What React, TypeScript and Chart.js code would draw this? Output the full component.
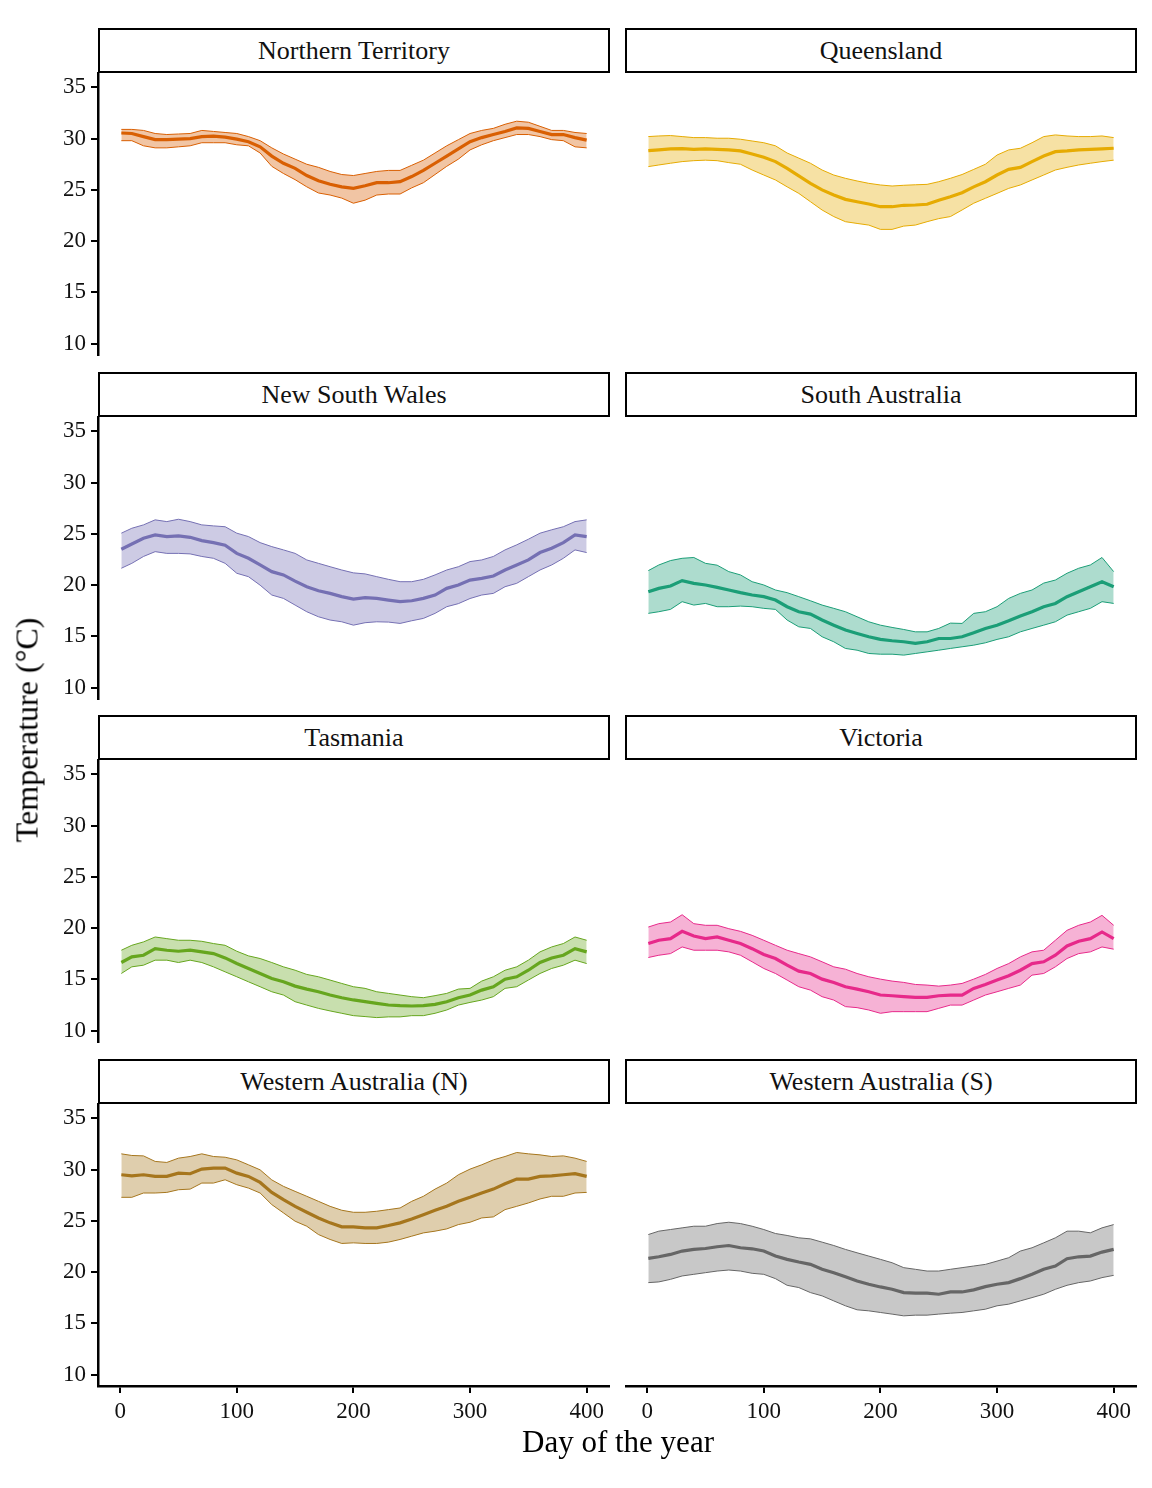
import React, { useEffect, useRef } from 'react';
import Chart from 'chart.js/auto';

// day of the year at which each value was read
const days = [1, 10, 20, 30, 40, 50, 60, 70, 80, 90, 100, 110, 120, 130, 140, 150, 160, 170, 180, 190, 200, 210, 220, 230, 240, 250, 260, 270, 280, 290, 300, 310, 320, 330, 340, 350, 360, 370, 380, 390, 400];

const ntMean = [30.55, 30.5, 30.2, 29.9, 29.9, 29.95, 30.0, 30.2, 30.25, 30.15, 29.95, 29.7, 29.2, 28.3, 27.6, 27.1, 26.4, 25.9, 25.55, 25.3, 25.15, 25.4, 25.7, 25.7, 25.8, 26.3, 26.9, 27.6, 28.3, 29.0, 29.7, 30.1, 30.4, 30.7, 31.05, 31.0, 30.7, 30.4, 30.4, 30.1, 29.85];
const ntLow = [29.8, 29.8, 29.3, 29.1, 29.1, 29.2, 29.3, 29.6, 29.6, 29.6, 29.4, 29.3, 28.6, 27.3, 26.6, 26.0, 25.3, 24.7, 24.5, 24.2, 23.7, 24.0, 24.5, 24.6, 24.6, 25.2, 25.7, 26.5, 27.3, 28.0, 28.9, 29.4, 29.8, 30.1, 30.4, 30.4, 30.2, 29.9, 29.8, 29.2, 29.1];
const ntHigh = [30.9, 30.9, 30.8, 30.5, 30.4, 30.45, 30.5, 30.8, 30.7, 30.6, 30.5, 30.2, 29.8, 29.1, 28.5, 28.0, 27.5, 27.2, 26.8, 26.5, 26.4, 26.6, 26.8, 26.9, 26.9, 27.4, 27.9, 28.6, 29.3, 29.9, 30.5, 30.8, 31.0, 31.4, 31.7, 31.6, 31.2, 30.8, 30.8, 30.6, 30.5];

const qldMean = [28.83, 28.9, 29.0, 29.03, 28.96, 29.0, 28.96, 28.9, 28.8, 28.5, 28.18, 27.76, 27.1, 26.36, 25.64, 25.0, 24.5, 24.08, 23.85, 23.62, 23.36, 23.36, 23.5, 23.53, 23.6, 24.0, 24.34, 24.73, 25.3, 25.8, 26.45, 27.0, 27.2, 27.76, 28.3, 28.73, 28.8, 28.9, 28.96, 29.0, 29.06];
const qldLow = [27.27, 27.43, 27.6, 27.76, 27.85, 27.9, 27.85, 27.66, 27.5, 26.94, 26.45, 25.97, 25.3, 24.66, 23.85, 23.04, 22.4, 21.9, 21.73, 21.57, 21.15, 21.15, 21.47, 21.57, 21.9, 22.2, 22.4, 23.04, 23.7, 24.18, 24.66, 25.15, 25.48, 25.97, 26.45, 26.94, 27.2, 27.43, 27.6, 27.76, 27.9];
const qldHigh = [30.2, 30.26, 30.3, 30.2, 30.1, 30.1, 30.04, 30.04, 29.94, 29.77, 29.6, 29.3, 28.6, 28.1, 27.6, 26.94, 26.45, 26.13, 25.87, 25.64, 25.48, 25.38, 25.45, 25.5, 25.54, 25.8, 26.13, 26.5, 27.0, 27.5, 28.4, 28.9, 29.06, 29.6, 30.2, 30.36, 30.26, 30.2, 30.2, 30.26, 30.1];

const nswMean = [23.5, 24.02, 24.58, 24.9, 24.74, 24.8, 24.67, 24.35, 24.15, 23.9, 23.1, 22.62, 21.97, 21.32, 21.0, 20.4, 19.85, 19.46, 19.2, 18.88, 18.65, 18.78, 18.71, 18.55, 18.39, 18.48, 18.71, 19.04, 19.69, 20.02, 20.5, 20.67, 20.9, 21.48, 21.97, 22.46, 23.18, 23.6, 24.15, 24.9, 24.74];
const nswLow = [21.65, 22.13, 22.8, 23.27, 23.1, 23.1, 23.05, 22.8, 22.62, 22.13, 21.16, 20.83, 20.0, 19.04, 18.71, 18.06, 17.41, 16.92, 16.6, 16.43, 16.1, 16.34, 16.43, 16.4, 16.27, 16.53, 16.76, 17.25, 17.9, 18.2, 18.7, 19.04, 19.2, 19.85, 20.18, 20.83, 21.48, 21.97, 22.62, 23.44, 23.18];
const nswHigh = [25.07, 25.55, 25.88, 26.37, 26.2, 26.43, 26.2, 25.88, 25.78, 25.7, 25.07, 24.74, 24.15, 23.76, 23.44, 23.1, 22.46, 22.13, 21.8, 21.48, 21.2, 21.1, 20.83, 20.57, 20.34, 20.34, 20.57, 21.0, 21.48, 21.8, 22.3, 22.46, 22.8, 23.44, 23.93, 24.48, 25.07, 25.4, 25.7, 26.2, 26.37];

const saMean = [19.36, 19.69, 19.92, 20.44, 20.18, 20.02, 19.79, 19.53, 19.27, 19.04, 18.88, 18.55, 17.9, 17.41, 17.18, 16.6, 16.1, 15.62, 15.29, 14.97, 14.71, 14.58, 14.48, 14.32, 14.48, 14.8, 14.8, 14.97, 15.36, 15.78, 16.1, 16.53, 16.99, 17.41, 17.9, 18.22, 18.88, 19.36, 19.85, 20.34, 19.85];
const saLow = [17.25, 17.41, 17.64, 18.39, 18.06, 18.22, 17.9, 17.9, 17.96, 17.9, 17.74, 17.64, 16.6, 15.94, 15.78, 14.97, 14.48, 13.83, 13.66, 13.34, 13.27, 13.27, 13.18, 13.34, 13.5, 13.66, 13.83, 13.99, 14.15, 14.38, 14.71, 14.97, 15.45, 15.78, 16.1, 16.43, 17.08, 17.41, 17.74, 18.39, 18.22];
const saHigh = [21.42, 21.97, 22.4, 22.62, 22.7, 22.13, 21.95, 21.32, 21.0, 20.34, 20.02, 19.53, 19.27, 18.88, 18.48, 18.06, 17.74, 17.41, 16.92, 16.43, 16.1, 15.88, 15.68, 15.45, 15.45, 15.78, 16.3, 16.27, 17.25, 17.41, 17.9, 18.71, 19.2, 19.53, 20.2, 20.5, 21.16, 21.65, 21.97, 22.7, 21.32];

const tasMean = [16.65, 17.2, 17.36, 18.0, 17.85, 17.75, 17.85, 17.69, 17.52, 17.1, 16.55, 16.07, 15.58, 15.1, 14.77, 14.35, 14.06, 13.8, 13.48, 13.22, 13.0, 12.83, 12.67, 12.51, 12.44, 12.41, 12.44, 12.57, 12.83, 13.22, 13.48, 13.96, 14.29, 15.03, 15.26, 15.9, 16.65, 17.1, 17.36, 18.0, 17.69];
const tasLow = [15.58, 16.23, 16.39, 16.88, 16.88, 16.65, 16.88, 16.65, 16.23, 15.74, 15.26, 14.77, 14.29, 13.8, 13.48, 12.83, 12.5, 12.18, 11.93, 11.7, 11.47, 11.38, 11.28, 11.35, 11.35, 11.47, 11.47, 11.7, 12.02, 12.5, 12.76, 12.99, 13.32, 14.13, 14.29, 14.94, 15.58, 16.07, 16.39, 16.88, 16.55];
const tasHigh = [17.85, 18.33, 18.66, 19.14, 18.98, 18.82, 18.82, 18.72, 18.5, 18.33, 17.75, 17.3, 17.04, 16.65, 16.23, 15.9, 15.49, 15.26, 14.94, 14.61, 14.29, 14.13, 13.8, 13.64, 13.48, 13.32, 13.22, 13.42, 13.64, 14.06, 14.13, 14.84, 15.26, 15.9, 16.23, 16.88, 17.69, 18.17, 18.5, 19.14, 18.82];

const vicMean = [18.5, 18.82, 18.98, 19.69, 19.24, 18.98, 19.14, 18.82, 18.5, 18.0, 17.43, 17.04, 16.39, 15.81, 15.58, 15.03, 14.71, 14.29, 14.06, 13.8, 13.48, 13.41, 13.32, 13.25, 13.25, 13.41, 13.48, 13.48, 14.13, 14.51, 14.94, 15.36, 15.9, 16.55, 16.72, 17.36, 18.27, 18.72, 18.98, 19.63, 18.98];
const vicLow = [17.14, 17.36, 17.52, 18.17, 17.85, 17.85, 17.85, 17.69, 17.36, 16.72, 16.07, 15.58, 14.94, 14.29, 13.96, 13.32, 12.99, 12.35, 12.25, 12.02, 11.7, 11.86, 11.86, 11.86, 11.86, 12.18, 12.5, 12.5, 12.99, 13.48, 13.8, 14.13, 14.45, 15.42, 15.58, 16.23, 17.04, 17.52, 17.69, 18.17, 17.95];
const vicHigh = [20.11, 20.44, 20.6, 21.31, 20.44, 20.28, 20.28, 19.95, 19.69, 19.3, 18.82, 18.33, 17.85, 17.52, 17.2, 16.72, 16.23, 16.0, 15.58, 15.26, 15.03, 14.84, 14.71, 14.51, 14.45, 14.35, 14.45, 14.61, 15.03, 15.49, 16.07, 16.55, 17.2, 17.69, 17.85, 18.82, 19.79, 20.28, 20.6, 21.25, 20.28];

const wanMean = [29.5, 29.4, 29.5, 29.34, 29.34, 29.66, 29.6, 30.05, 30.15, 30.15, 29.66, 29.34, 28.75, 27.78, 27.07, 26.42, 25.84, 25.29, 24.81, 24.42, 24.42, 24.32, 24.32, 24.55, 24.81, 25.19, 25.61, 26.04, 26.42, 26.91, 27.3, 27.72, 28.1, 28.62, 29.08, 29.08, 29.34, 29.4, 29.5, 29.6, 29.34];
const wanLow = [27.3, 27.3, 27.72, 27.72, 27.78, 28.04, 28.1, 28.69, 28.69, 29.01, 28.53, 28.2, 27.72, 26.59, 25.78, 24.97, 24.48, 23.67, 23.19, 22.8, 22.86, 22.8, 22.8, 22.93, 23.19, 23.51, 23.83, 24.0, 24.22, 24.64, 24.87, 25.29, 25.39, 26.1, 26.42, 26.75, 27.14, 27.4, 27.4, 27.72, 27.78];
const wanHigh = [31.54, 31.38, 31.34, 30.8, 30.7, 31.12, 31.28, 31.54, 31.28, 31.21, 30.95, 30.47, 29.98, 29.0, 28.37, 27.88, 27.4, 26.91, 26.42, 26.04, 25.84, 25.84, 25.94, 26.1, 26.26, 26.91, 27.4, 28.1, 28.69, 29.5, 30.05, 30.47, 30.95, 31.28, 31.67, 31.54, 31.44, 31.28, 31.34, 31.12, 30.8];

const wasMean = [21.34, 21.5, 21.73, 22.06, 22.22, 22.31, 22.48, 22.6, 22.38, 22.28, 22.06, 21.57, 21.25, 20.99, 20.76, 20.28, 19.95, 19.56, 19.14, 18.82, 18.56, 18.33, 18.01, 17.95, 17.95, 17.85, 18.07, 18.07, 18.27, 18.59, 18.82, 18.98, 19.37, 19.79, 20.28, 20.6, 21.31, 21.5, 21.57, 21.96, 22.22];
const wasLow = [18.98, 19.05, 19.3, 19.63, 19.79, 19.95, 20.11, 20.21, 20.11, 19.89, 19.79, 19.37, 18.72, 18.5, 18.01, 17.69, 17.2, 16.72, 16.33, 16.23, 16.07, 15.91, 15.74, 15.81, 15.81, 15.91, 16.0, 16.07, 16.23, 16.39, 16.72, 16.88, 17.2, 17.52, 17.85, 18.33, 18.72, 18.98, 19.14, 19.47, 19.69];
const wasHigh = [23.67, 24.0, 24.16, 24.32, 24.48, 24.48, 24.74, 24.87, 24.74, 24.48, 24.16, 23.77, 23.58, 23.35, 23.25, 22.93, 22.6, 22.22, 21.89, 21.57, 21.25, 20.92, 20.44, 20.28, 20.11, 20.11, 20.28, 20.44, 20.6, 20.76, 21.08, 21.41, 22.06, 22.38, 22.86, 23.35, 24.0, 24.0, 23.84, 24.32, 24.64];

const regions = ['Northern Territory', 'Queensland', 'New South Wales', 'South Australia', 'Tasmania', 'Victoria', 'Western Australia (N)', 'Western Australia (S)'];
const colors = ['#D95F02', '#E6AB02', '#7570B3', '#1B9E77', '#66A61E', '#E7298A', '#A6761D', '#666666'];
const means = [ntMean, qldMean, nswMean, saMean, tasMean, vicMean, wanMean, wasMean];
const lows = [ntLow, qldLow, nswLow, saLow, tasLow, vicLow, wanLow, wasLow];
const highs = [ntHigh, qldHigh, nswHigh, saHigh, tasHigh, vicHigh, wanHigh, wasHigh];

const yTicks = [10, 15, 20, 25, 30, 35];
const xTicks = [0, 100, 200, 300, 400];

const FONT = '"Liberation Serif", "Times New Roman", serif';
const PLOT_H = 282;
const STRIP_H = 45;
const PLOT_W = 512;
const Y_AXIS_W = 58;
const X_AXIS_H = 44;
const PAD = 14;

const alpha = (hex: string, a: number) => {
  const n = parseInt(hex.slice(1), 16);
  return `rgba(${(n >> 16) & 255}, ${(n >> 8) & 255}, ${n & 255}, ${a})`;
};

const toPoints = (vals: number[]) => vals.map((v, i) => ({ x: days[i], y: v }));

interface PanelProps {
  index: number;
}

const Panel: React.FC<PanelProps> = ({ index }) => {
  const canvasRef = useRef<HTMLCanvasElement>(null);
  const row = Math.floor(index / 2);
  const col = index % 2;
  const lastRow = row === 3;
  const showY = col === 0;
  const color = colors[index];

  const stripTop = Math.round(28 + row * 343.7);
  const plotTop = stripTop + STRIP_H;
  const plotLeft = col === 0 ? 98 : 625;
  const canvasLeft = showY ? plotLeft - Y_AXIS_W : plotLeft;
  const canvasW = showY ? PLOT_W + Y_AXIS_W : PLOT_W;
  const canvasTop = plotTop - PAD;
  const canvasH = PAD + PLOT_H + (lastRow ? X_AXIS_H : PAD);

  useEffect(() => {
    if (!canvasRef.current) return;
    const tickFont = { family: FONT, size: 23 };
    const chart = new Chart(canvasRef.current, {
      type: 'line',
      data: {
        datasets: [
          {
            label: 'mean',
            data: toPoints(means[index]),
            borderColor: color,
            borderWidth: 3.2,
            pointRadius: 0,
            fill: false,
          },
          {
            label: 'low',
            data: toPoints(lows[index]),
            borderColor: color,
            borderWidth: 1,
            pointRadius: 0,
            fill: false,
          },
          {
            label: 'high',
            data: toPoints(highs[index]),
            borderColor: color,
            borderWidth: 1,
            pointRadius: 0,
            backgroundColor: alpha(color, 0.36),
            fill: '-1',
          },
        ],
      },
      options: {
        animation: false,
        responsive: false,
        maintainAspectRatio: false,
        layout: { padding: { top: PAD, bottom: lastRow ? 0 : PAD, left: 0, right: 0 } },
        plugins: { legend: { display: false }, tooltip: { enabled: false } },
        elements: { line: { tension: 0 } },
        scales: {
          x: {
            type: 'linear',
            min: -19,
            max: 420,
            display: lastRow,
            afterBuildTicks: (s: any) => { s.ticks = xTicks.map(v => ({ value: v })); },
            afterFit: (s: any) => {
              s.height = lastRow ? X_AXIS_H : 0;
              s.paddingLeft = 0;
              s.paddingRight = 0;
            },
            ticks: { color: '#111', font: tickFont, padding: 5, maxRotation: 0 },
            grid: { drawOnChartArea: false, drawTicks: true, tickLength: 7, color: '#000', lineWidth: 2 },
            border: { display: true, color: '#000', width: 2.5 },
          },
          y: {
            min: 8.9,
            max: 36.4,
            display: showY,
            afterBuildTicks: (s: any) => { s.ticks = yTicks.map(v => ({ value: v })); },
            afterFit: (s: any) => {
              s.width = showY ? Y_AXIS_W : 0;
              s.paddingTop = 0;
              s.paddingBottom = 0;
            },
            ticks: { color: '#111', font: tickFont, padding: 5 },
            grid: { drawOnChartArea: false, drawTicks: true, tickLength: 7, color: '#000', lineWidth: 2 },
            border: { display: true, color: '#000', width: 2.5 },
          },
        },
      },
    } as any);
    return () => chart.destroy();
  }, [index]);

  return (
    <>
      <div
        style={{
          position: 'absolute',
          left: plotLeft,
          top: stripTop,
          width: PLOT_W,
          height: STRIP_H,
          boxSizing: 'border-box',
          border: '2.5px solid #000',
          background: '#fff',
          display: 'flex',
          alignItems: 'center',
          justifyContent: 'center',
          fontSize: 26,
          color: '#111',
          zIndex: 2,
        }}
      >
        {regions[index]}
      </div>
      <canvas
        ref={canvasRef}
        width={canvasW}
        height={canvasH}
        style={{ position: 'absolute', left: canvasLeft, top: canvasTop, width: canvasW, height: canvasH }}
      />
    </>
  );
};

const App: React.FC = () => {
  return (
    <div
      style={{
        position: 'absolute',
        left: 0,
        top: 0,
        width: 1152,
        height: 1488,
        background: '#fff',
        fontFamily: FONT,
        overflow: 'hidden',
      }}
    >
      {regions.map((_, i) => <Panel key={i} index={i} />)}
      <div
        style={{
          position: 'absolute',
          left: 27,
          top: 730,
          transform: 'translate(-50%, -50%) rotate(-90deg)',
          whiteSpace: 'nowrap',
          fontSize: 32,
          color: '#000',
        }}
      >
        Temperature (°C)
      </div>
      <div
        style={{
          position: 'absolute',
          left: 618,
          top: 1442,
          transform: 'translate(-50%, -50%)',
          whiteSpace: 'nowrap',
          fontSize: 31,
          color: '#000',
        }}
      >
        Day of the year
      </div>
    </div>
  );
};

export default App;
